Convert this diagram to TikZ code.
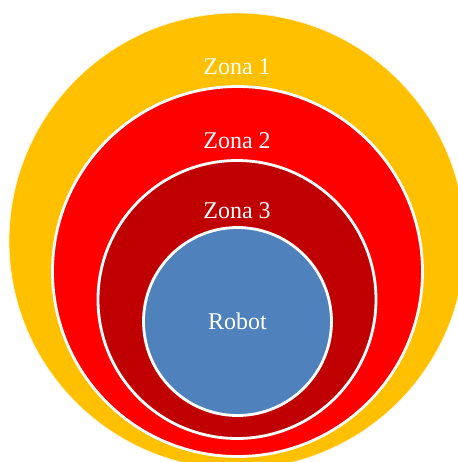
\documentclass[tikz,border=0pt]{standalone}
\usepackage{fontspec}
\setmainfont{Liberation Serif}
\definecolor{zonaone}{RGB}{255,192,0}
\definecolor{zonatwo}{RGB}{255,0,0}
\definecolor{zonathree}{RGB}{192,0,0}
\definecolor{robotblue}{RGB}{79,129,189}
\tikzstyle{zone} = [circle, inner sep=0pt, draw=white, line width=2.1pt]
\tikzstyle{label} = [text=white, font=\fontsize{18}{20}\selectfont]
\begin{document}
\begin{tikzpicture}[x=0.75pt, y=-0.75pt]
		\useasboundingbox (0,0) rectangle (458,462);
		\begin{scope}
		\clip (0,0) rectangle (458,462);
		\node (zona1) [zone, fill=zonaone, line width=0.6pt, draw=white!80!zonaone, minimum size=342pt] at (237,241) {};
		\end{scope}
		\node (zona2) [zone, fill=zonatwo, minimum size=277.5pt] at (237.5,271.5) {};
		\node (zona3) [zone, fill=zonathree, minimum size=208.5pt] at (237,299.5) {};
		\node (robot) [zone, fill=robotblue, minimum size=141pt, label] at (237.5,321.5) {Robot};
		\node (lbl1) [label] at (237,67) {Zona 1};
		\node (lbl2) [label] at (237,141) {Zona 2};
		\node (lbl3) [label] at (237,211) {Zona 3};
	\end{tikzpicture}
\end{document}
